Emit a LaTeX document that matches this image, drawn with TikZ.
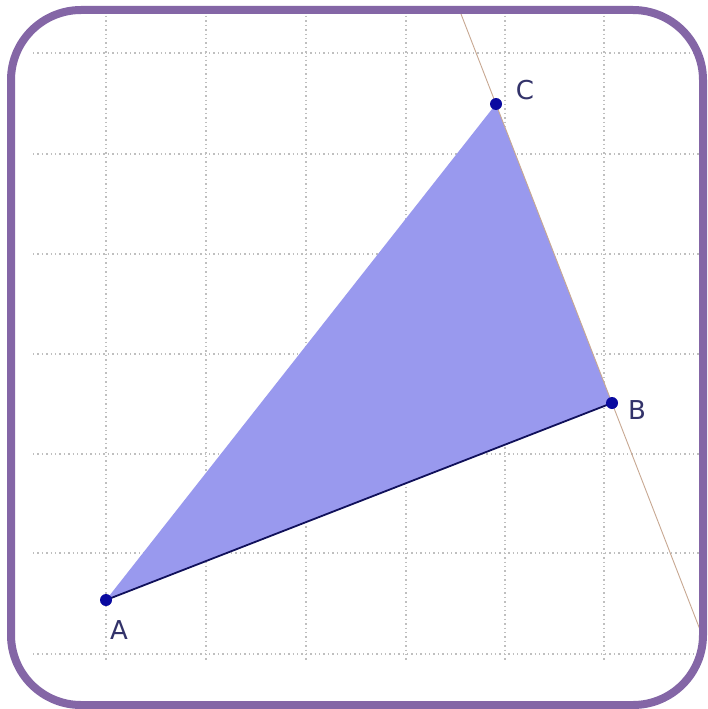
\documentclass[tikz,border=0pt]{standalone}
\usepackage{fontspec}
\setmainfont{DejaVu Sans}
\definecolor{frame}{HTML}{8466A6}
\definecolor{tri}{HTML}{9999EE}
\definecolor{pt}{HTML}{0A0AA0}
\definecolor{lbl}{HTML}{33336A}
\definecolor{seg}{HTML}{10105A}
\definecolor{ext}{HTML}{C8A892}
\begin{document}
\begin{tikzpicture}[x=1pt,y=-1pt,
  gridline/.style={draw=black!25, line width=1.3pt, dash pattern=on 1.4pt off 3pt},
  ptdot/.style={circle, fill=pt, inner sep=0pt, minimum size=12pt},
  lab/.style={text=lbl, font=\fontsize{26}{26}\selectfont, inner sep=0pt}]
\useasboundingbox (0,0) rectangle (707,709);
\fill[white] (0,0) rectangle (707,709);
% grid
\foreach \x in {106,206,306,406,505,604} \draw[gridline] (\x,16) -- (\x,662);
\foreach \y in {53,154,254,354,454,553,654} \draw[gridline] (33,\y) -- (700,\y);
% points
\coordinate (A) at (106,600);
\coordinate (B) at (612,403);
\coordinate (C) at (496,104);
\coordinate (E1) at (461,14);
\coordinate (E2) at (704,640);
\fill[tri] (A) -- (B) -- (C) -- cycle;
\draw[ext, line width=0.9pt] (E1) -- (E2);
\draw[seg, line width=1.8pt] (A) -- (B);
\node[ptdot] (a) at (A) {};
\node[ptdot] (b) at (B) {};
\node[ptdot] (c) at (C) {};
\node[lab] (la) at (119,630) {A};
\node[lab] (lb) at (637,410) {B};
\node[lab] (lc) at (525,90) {C};
% frame
\draw[frame, line width=8pt, rounded corners=70pt] (11,10) rectangle (703,705);
\end{tikzpicture}
\end{document}
